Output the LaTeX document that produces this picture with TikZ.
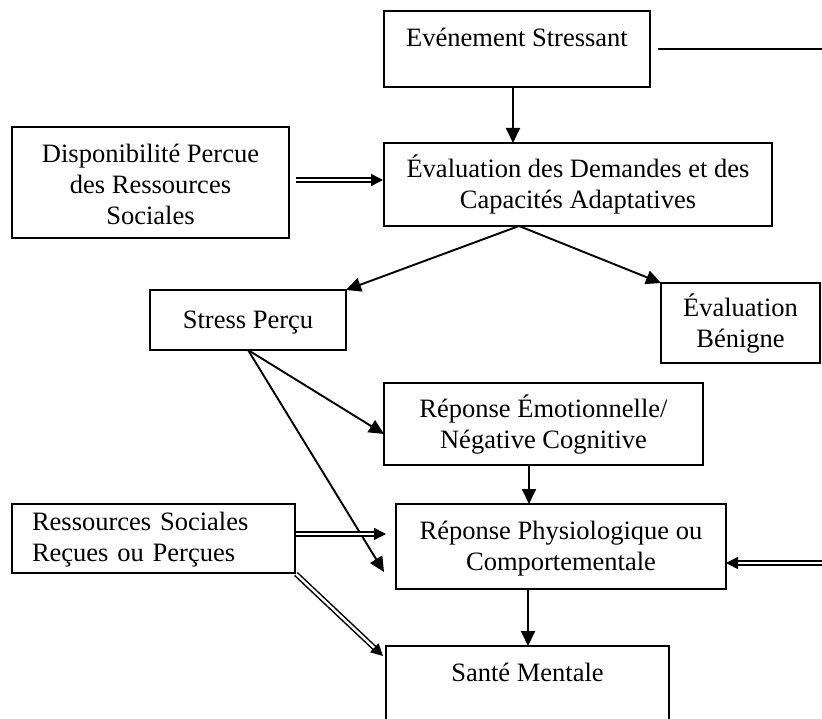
\documentclass[tikz,border=0pt]{standalone}
\usepackage{fontspec}
\setmainfont{Liberation Serif}
\usetikzlibrary{arrows.meta,calc}
\begin{document}
\begin{tikzpicture}[x=1pt,y=-1pt,
  box/.style={draw, line width=2pt, inner sep=0pt, outer sep=0pt, align=center,
    font=\fontsize{26.5}{31}\selectfont},
  tx/.style 2 args={text height=#1pt, text depth=#2pt},
  plain/.style={line width=2pt},
  arr/.style={line width=1.9pt, -{Triangle[length=15pt,width=14pt]}},
  dbl/.style={double, double distance=2.4pt, line width=1.5pt,
    -{Triangle[length=12pt,width=12pt]}}]
\useasboundingbox (0,0) rectangle (822,719);
\fill[white] (0,0) rectangle (822,719);
\clip (0,0) rectangle (822,719);

% boxes
\node[box, minimum width=266pt, minimum height=76pt, tx={16}{20}] (ev) at (517,49)
  {Evénement Stressant};
\node[box, minimum width=388pt, minimum height=83pt, tx={57}{8}] (eval) at (578,184.5)
  {Évaluation des Demandes et des\\Capacités Adaptatives};
\node[box, minimum width=277pt, minimum height=111pt, tx={93}{8}] (dispo) at (150.5,182.5)
  {Disponibilité Percue\\des Ressources\\Sociales};
\node[box, minimum width=196pt, minimum height=60pt, tx={26}{8}] (stress) at (248,320)
  {Stress Perçu};
\node[box, minimum width=159pt, minimum height=80pt, tx={58}{8}] (benigne) at (740.5,323)
  {Évaluation\\Bénigne};
\node[box, minimum width=319pt, minimum height=82pt, tx={56}{8}] (emo) at (543.5,424)
  {Réponse Émotionnelle/\\Négative Cognitive};
\node[box, minimum width=330pt, minimum height=85pt, tx={56}{8}] (physio) at (561,546.5)
  {Réponse Physiologique ou\\Comportementale};
\node[box, minimum width=283pt, minimum height=69pt, text width=243pt, align=left,
  tx={15}{32}] (ress) at (153.5,538.5)
  {Ressources Sociales\\Reçues ou Perçues};
\node[box, minimum width=283pt, minimum height=78pt, tx={16}{24}] (sante) at (527.5,685)
  {Santé Mentale};

% free ends on the right margin
\coordinate (outR) at (822,49);
\coordinate (inR) at (822,563);
\coordinate (fork) at ($(eval.south west)!0.348!(eval.south east)$);

% connectors
\draw[plain] ($(ev.east)+(8,0)$) -- (outR);
\draw[arr] ($(ev.south west)+(129,0)$) -- ($(eval.north west)+(129,0)$);
\draw[dbl] ($(dispo.east)+(7,-2.5)$) -- ($(eval.west)+(-1,-4.5)$);
\draw[arr] (fork) -- (stress.north east);
\draw[arr] (fork) -- (benigne.north west);
\draw[arr] (stress.south) -- ($(emo.west)+(0,10)$);
\draw[arr] (stress.south) -- ($(physio.west)+(-12,25.5)$);
\draw[arr] ($(emo.south west)+(145,0)$) -- ($(physio.north west)+(133,0)$);
\draw[arr] ($(physio.south west)+(132,0)$) -- ($(sante.north west)+(142,0)$);
\draw[dbl] ($(ress.east)+(1,-4.5)$) -- ($(physio.west)+(-10,-12.5)$);
\draw[dbl] ($(ress.south east)+(1,1)$) -- ($(sante.north west)+(-3,10)$);
\draw[dbl] (inR) -- (physio.east |- inR);
\end{tikzpicture}
\end{document}
